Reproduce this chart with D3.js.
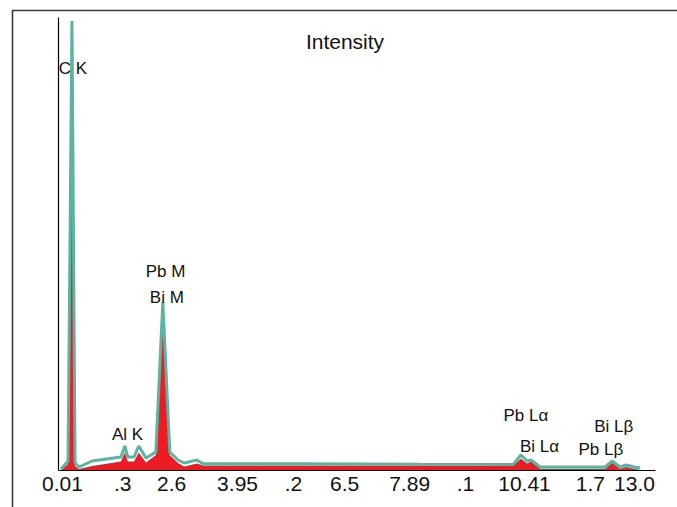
<!DOCTYPE html>
<html>
<head>
<meta charset="utf-8">
<script src="https://cdn.jsdelivr.net/npm/d3@7"></script>
<style>
  body { margin: 0; background: #fff; }
  svg { display: block; font-family: "Liberation Sans", Arial, sans-serif; }
</style>
</head>
<body>
<div id="chart"></div>
<script>
// spectrum vertices (keV) with the outline (teal) and filled (red) counts
var energies = [0.02, 0.18, 0.27, 0.34, 0.43, 0.73, 1.39, 1.48, 1.55, 1.69, 1.80, 1.965,
  2.19, 2.35, 2.51, 2.70, 2.84, 3.13, 3.27, 5.49, 8.24, 10.37, 10.55, 10.69, 10.78,
  10.99, 12.48, 12.64, 12.82, 12.96, 13.14, 13.28];
var totalCounts = [10, 90, 4490, 70, 30, 90, 130, 240, 130, 130, 240, 120,
  180, 1680, 180, 100, 70, 100, 62, 62, 58, 56, 150, 90, 100,
  30, 30, 90, 30, 50, 30, 20];
var netCounts = [0, 60, 4300, 40, 10, 40, 85, 175, 85, 85, 175, 75,
  150, 1650, 150, 70, 35, 65, 46, 46, 44, 42, 115, 65, 85,
  13, 13, 72, 13, 30, 13, 0];

var tickEnergies = [0.04, 1.42, 2.54, 4.05, 5.33, 6.50, 7.99, 9.27, 10.62, 12.13, 13.14];
var tickLabels = ["0.01", ".3", "2.6", "3.95", ".2", "6.5", "7.89", ".1", "10.41", "1.7", "13.0"];

var peakNames = ["C K", "Al K", "Pb M", "Bi M", "Pb Lα", "Bi Lα", "Pb Lβ", "Bi Lβ"];
var peakEnergies = [0.277, 1.486, 2.345, 2.42, 10.55, 10.84, 12.61, 13.02];

var width = 677, height = 507;
var svg = d3.select("#chart").append("svg")
  .attr("width", width)
  .attr("height", height);

// frame, open at right and bottom
svg.append("path")
  .attr("d", "M12.5," + (height + 5) + "V10.5H" + (width + 5))
  .attr("fill", "none")
  .attr("stroke", "#3a3a3a")
  .attr("stroke-width", 1.6);

var x = d3.scaleLinear().domain([-0.05, 13.62]).range([58, 655]);
var y = d3.scaleLinear().domain([0, 4530]).range([470, 17]);

var idx = d3.range(energies.length);

svg.append("path")
  .datum(idx)
  .attr("fill", "#ed1c24")
  .attr("d", d3.area()
    .x(function(i) { return x(energies[i]); })
    .y0(y(0))
    .y1(function(i) { return y(netCounts[i]); }));

svg.append("path")
  .datum(idx)
  .attr("fill", "none")
  .attr("stroke", "#5bb3a1")
  .attr("stroke-width", 3)
  .attr("stroke-linejoin", "bevel")
  .attr("d", d3.line()
    .x(function(i) { return x(energies[i]); })
    .y(function(i) { return y(totalCounts[i]); }));

// axes
svg.append("g")
  .attr("transform", "translate(0," + y(0) + ")")
  .call(d3.axisBottom(x)
    .tickValues(tickEnergies)
    .tickFormat(function(d, i) { return tickLabels[i]; })
    .tickSize(0)
    .tickPadding(6))
  .call(function(g) {
    g.select(".domain").attr("stroke", "#000").attr("stroke-width", 1.2);
    g.selectAll("text")
      .attr("font-family", "Liberation Sans, Arial, sans-serif")
      .attr("font-size", 21)
      .attr("fill", "#111");
  });

svg.append("g")
  .attr("transform", "translate(" + x(-0.05) + ",0)")
  .call(d3.axisLeft(y).tickValues([]).tickSizeOuter(0))
  .call(function(g) {
    g.select(".domain").attr("stroke", "#000").attr("stroke-width", 1.2);
  });

svg.append("text")
  .attr("x", 345)
  .attr("y", 49)
  .attr("text-anchor", "middle")
  .attr("font-size", 21)
  .attr("fill", "#111")
  .text("Intensity");

// label layout: horizontal nudge from the peak, and baseline
var labelLayout = {
  "C K": [0.7, 74], "Al K": [2.4, 440], "Pb M": [3, 277], "Bi M": [1, 303],
  "Pb Lα": [5, 421], "Bi Lα": [6, 452], "Pb Lβ": [-10, 455], "Bi Lβ": [-15, 432]
};

svg.append("g").selectAll("text")
  .data(peakNames)
  .join("text")
  .attr("x", function(d, i) { return x(peakEnergies[i]) + labelLayout[d][0]; })
  .attr("y", function(d) { return labelLayout[d][1]; })
  .attr("text-anchor", "middle")
  .attr("font-size", 17)
  .attr("fill", "#111")
  .text(function(d) { return d; });
</script>
</body>
</html>
